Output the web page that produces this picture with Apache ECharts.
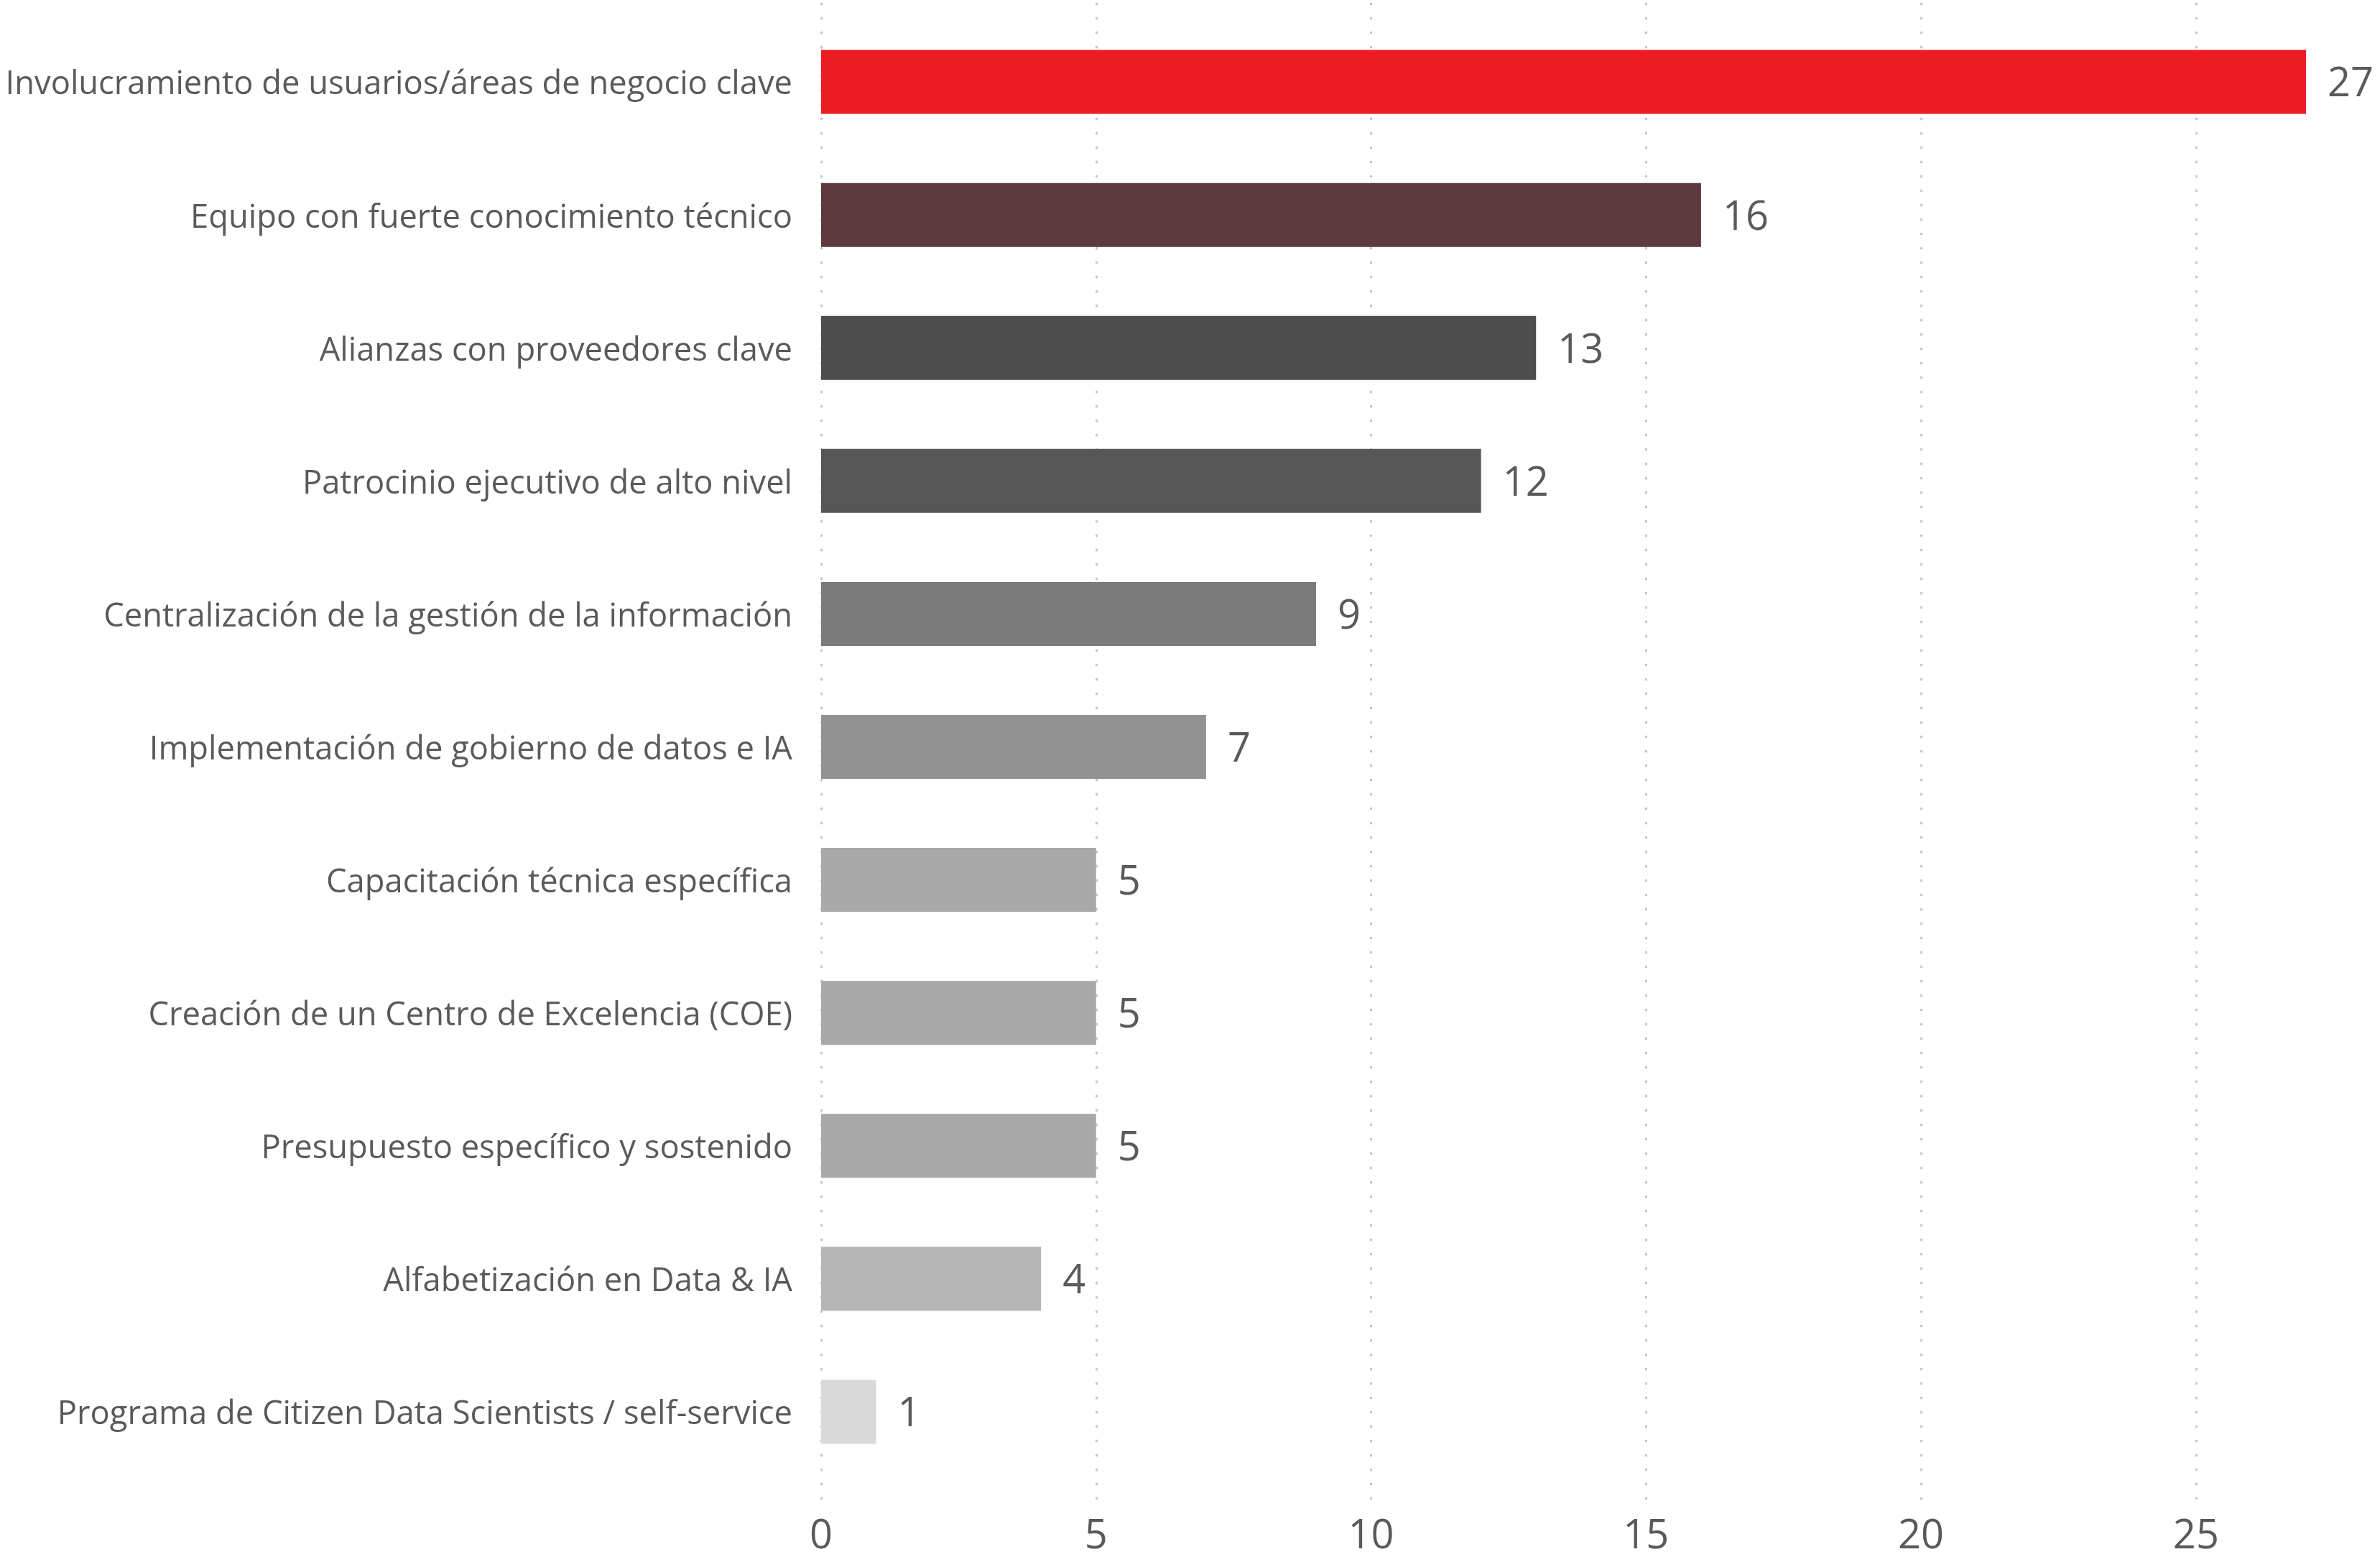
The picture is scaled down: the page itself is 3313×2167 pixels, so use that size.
<!DOCTYPE html>
<html>
<head>
<meta charset="utf-8">
<script src="https://cdn.jsdelivr.net/npm/echarts@6/dist/echarts.min.js"></script>
<style>
html,body{margin:0;padding:0;background:#fff;}
#c{width:3313px;height:2167px;}
</style>
</head>
<body>
<div id="c"></div>
<script>
const categories = [
  "Involucramiento de usuarios/áreas de negocio clave",
  "Equipo con fuerte conocimiento técnico",
  "Alianzas con proveedores clave",
  "Patrocinio ejecutivo de alto nivel",
  "Centralización de la gestión de la información",
  "Implementación de gobierno de datos e IA",
  "Capacitación técnica específica",
  "Creación de un Centro de Excelencia (COE)",
  "Presupuesto específico y sostenido",
  "Alfabetización en Data & IA",
  "Programa de Citizen Data Scientists / self-service"
];
const values = [27, 16, 13, 12, 9, 7, 5, 5, 5, 4, 1];
const barColors = ["#ED1C24", "#5C3A3D", "#4D4D4D", "#575757", "#7B7B7B", "#929292", "#A9A9A9", "#A9A9A9", "#A9A9A9", "#B5B5B5", "#D9D9D9"];
const xTicks = [0, 5, 10, 15, 20, 25];

const FONT = "'Open Sans', 'Noto Sans', sans-serif";
const TXT = "#5A5A5A";

const chart = echarts.init(document.getElementById('c'), null, {renderer: 'canvas'});
chart.setOption({
  backgroundColor: '#ffffff',
  animation: false,
  grid: [
    {left: 1143, right: 103, top: 21.5, bottom: 109.5, containLabel: false},
    {left: 1143, right: 103, top: 5, bottom: 79, containLabel: false}
  ],
  xAxis: [
    {
      gridIndex: 0, type: 'value', min: 0, max: 27, interval: 5,
      show: false, splitLine: {show: false}
    },
    {
      gridIndex: 1, type: 'value', min: 0, max: 27, interval: 5,
      axisLine: {show: false}, axisTick: {show: false},
      axisLabel: {
        show: true, fontSize: 56, color: TXT, fontFamily: FONT, margin: 24,
        showMaxLabel: false,
        formatter: function (v) { return xTicks.indexOf(v) >= 0 ? String(v) : ''; }
      },
      splitLine: {
        show: true, showMaxLine: false,
        lineStyle: {color: '#C4C4C4', width: 3, type: [1, 19], cap: 'round'}
      }
    }
  ],
  yAxis: [
    {
      gridIndex: 0, type: 'category', data: categories, inverse: true,
      axisLine: {show: false}, axisTick: {show: false}, splitLine: {show: false},
      axisLabel: {
        fontSize: 45.3, color: TXT, fontFamily: FONT, margin: 40,
        formatter: function (v) { return '{c|' + v + '}'; },
        rich: {c: {fontSize: 45.3, color: TXT, fontFamily: FONT, padding: [9, 0, 0, 0]}}
      }
    },
    {
      gridIndex: 1, type: 'value', min: 0, max: 1, show: false
    }
  ],
  series: [
    {
      type: 'bar',
      xAxisIndex: 0, yAxisIndex: 0,
      data: values.map((v, i) => ({value: v, itemStyle: {color: barColors[i]}})),
      barWidth: 89,
      label: {
        show: true, position: 'right', distance: 30,
        fontSize: 56, color: TXT, fontFamily: FONT,
        formatter: function (p) { return '{v|' + p.value + '}'; },
        rich: {v: {fontSize: 56, color: TXT, fontFamily: FONT, padding: [9, 0, 0, 0]}}
      },
      z: 3
    }
  ]
});
</script>
</body>
</html>
